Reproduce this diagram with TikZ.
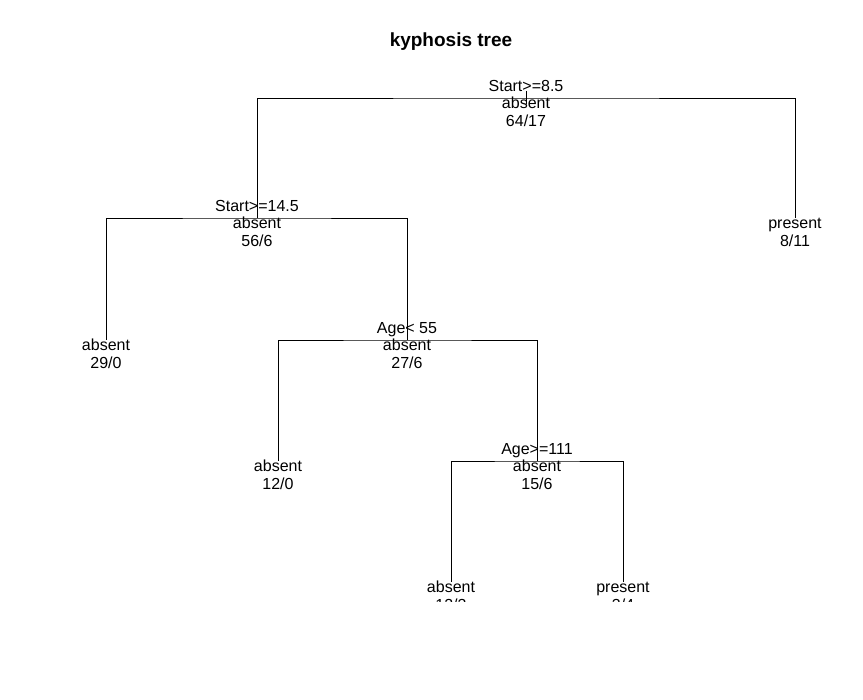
\documentclass[tikz,border=0pt]{standalone}
\usepackage{fontspec}
\setmainfont{Liberation Sans}
\usetikzlibrary{positioning}

\begin{document}
\begin{tikzpicture}[x=1pt,y=-1pt,
  every node/.style={inner sep=0pt,font=\fontsize{16}{18}\selectfont},
  split/.style={anchor=base,yshift=6pt},
  cls/.style={anchor=base,yshift=-10.5pt},
  cnt/.style={anchor=base,yshift=-29pt}]
  \useasboundingbox (0,0) rectangle (863,700);
  \node[anchor=base,font=\fontsize{19}{22}\selectfont\bfseries] (title) at (451,47) {kyphosis tree};
  \begin{scope}
  \clip (0,0) rectangle (863,602);
  % tree nodes
  \coordinate (n1) at (526,98);
  \coordinate (n2) at (257,218);
  \coordinate (n3) at (795,218);
  \coordinate (n4) at (106,340);
  \coordinate (n5) at (407,340);
  \coordinate (n10) at (278,461);
  \coordinate (n11) at (537,461);
  \coordinate (n22) at (451,582);
  \coordinate (n23) at (623,582);
  % branches
  \draw[line width=0.75pt] ([yshift=7pt]n1) -- ([yshift=-6pt]n1);
  \draw[line width=0.75pt] (n2) |- (n1) -| (n3);
  \draw[line width=0.75pt] (n4) |- (n2) -| (n5);
  \draw[line width=0.75pt] (n10) |- (n5) -| (n11);
  \draw[line width=0.75pt] (n22) |- (n11) -| (n23);
  % labels
  \node[split] (s1) at (n1) {Start>=8.5};
  \node[cls] (c1) at (n1) {absent};
  \node[cnt] (k1) at (n1) {64/17};
  \node[split] (s2) at (n2) {Start>=14.5};
  \node[cls] (c2) at (n2) {absent};
  \node[cnt] (k2) at (n2) {56/6};
  \node[cls] (c3) at (n3) {present};
  \node[cnt] (k3) at (n3) {8/11};
  \node[cls] (c4) at (n4) {absent};
  \node[cnt] (k4) at (n4) {29/0};
  \node[split] (s5) at (n5) {Age< 55};
  \node[cls] (c5) at (n5) {absent};
  \node[cnt] (k5) at (n5) {27/6};
  \node[cls] (c10) at (n10) {absent};
  \node[cnt] (k10) at (n10) {12/0};
  \node[split] (s11) at (n11) {Age>=111};
  \node[cls] (c11) at (n11) {absent};
  \node[cnt] (k11) at (n11) {15/6};
  \node[cls] (c22) at (n22) {absent};
  \node[cnt] (k22) at (n22) {12/3};
  \node[cls] (c23) at (n23) {present};
  \node[cnt] (k23) at (n23) {3/4};
  \end{scope}
\end{tikzpicture}
\end{document}
